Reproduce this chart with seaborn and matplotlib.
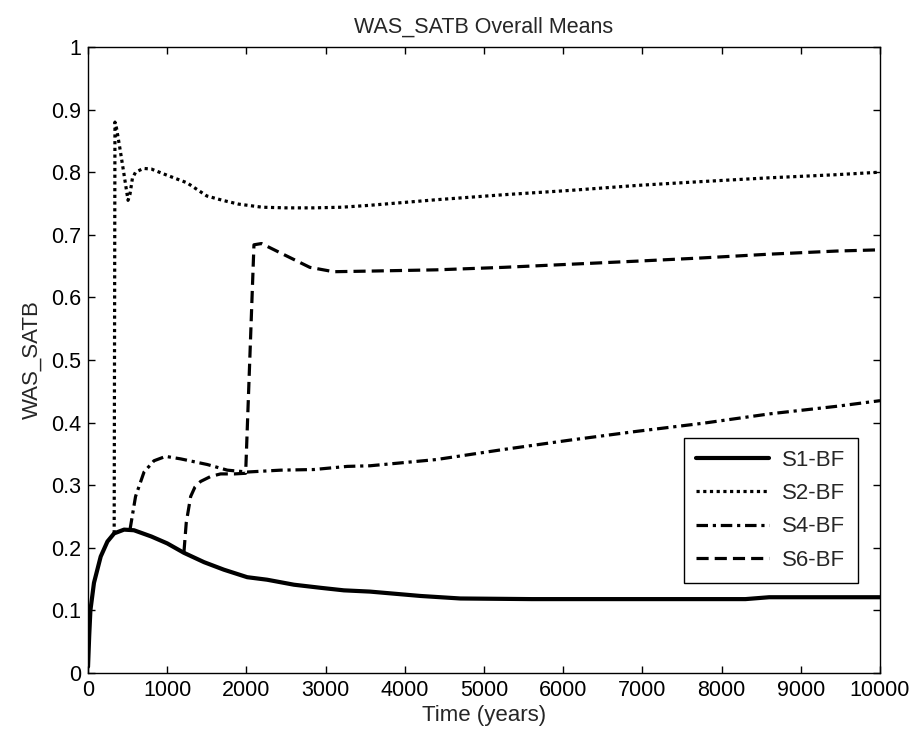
import numpy as np
import pandas as pd
import matplotlib
matplotlib.use('Agg')
import matplotlib.pyplot as plt
import seaborn as sns

# ==================== data ====================
s1_t = [0, 15, 30, 75, 160, 245, 330, 455, 580, 800, 1000, 1210, 1465, 1715, 2010,
        2260, 2600, 2940, 3230, 3560, 4200, 4700, 5600, 8300, 8600, 10000]
s1_y = [0.01, 0.06, 0.10, 0.144, 0.186, 0.21, 0.223, 0.229, 0.228, 0.218, 0.207, 0.192,
        0.177, 0.165, 0.153, 0.149, 0.141, 0.136, 0.132, 0.130, 0.123, 0.119, 0.118,
        0.118, 0.121, 0.121]

s2_t = [330, 340, 360, 400, 450, 505, 530, 560, 600, 700, 800, 1000, 1250, 1500, 1700,
        1900, 2200, 2500, 2850, 3200, 3550, 4400, 5250, 6100, 6950, 7750, 8600, 9450, 10000]
s2_y = [0.223, 0.88, 0.87, 0.84, 0.80, 0.755, 0.765, 0.79, 0.80, 0.806, 0.805, 0.795,
        0.783, 0.762, 0.755, 0.749, 0.744, 0.743, 0.743, 0.744, 0.747, 0.756, 0.764,
        0.771, 0.779, 0.785, 0.791, 0.796, 0.80]

s4_t = [530, 600, 707, 833, 980, 1170, 1506, 1759, 2010, 2432, 2852, 3273, 3561, 4402,
        5244, 6086, 6928, 7769, 8611, 9453, 10000]
s4_y = [0.229, 0.282, 0.321, 0.339, 0.346, 0.342, 0.333, 0.324, 0.321, 0.324, 0.325,
        0.330, 0.331, 0.341, 0.357, 0.372, 0.386, 0.399, 0.414, 0.426, 0.435]

s6_t = [1211, 1240, 1296, 1350, 1422, 1550, 1674, 1850, 1990, 2095, 2190, 2430, 2800,
        3100, 3560, 4400, 5250, 6100, 6950, 7750, 8600, 9450, 10000]
s6_y = [0.193, 0.24, 0.282, 0.297, 0.306, 0.314, 0.318, 0.318, 0.319, 0.684, 0.686,
        0.671, 0.648, 0.641, 0.642, 0.644, 0.648, 0.653, 0.658, 0.663, 0.669, 0.674, 0.676]

series_names = ['S1-BF', 'S2-BF', 'S4-BF', 'S6-BF']
series_t = [s1_t, s2_t, s4_t, s6_t]
series_y = [s1_y, s2_y, s4_y, s6_y]

x_ticks = [0, 1000, 2000, 3000, 4000, 5000, 6000, 7000, 8000, 9000, 10000]
y_ticks = [0, 0.1, 0.2, 0.3, 0.4, 0.5, 0.6, 0.7, 0.8, 0.9, 1]
y_tick_labels = ['0', '0.1', '0.2', '0.3', '0.4', '0.5', '0.6', '0.7', '0.8', '0.9', '1']

# ==================== style ====================
sns.set_style('ticks')
plt.rcParams['font.family'] = ['Liberation Sans', 'DejaVu Sans']
plt.rcParams['xtick.direction'] = 'in'
plt.rcParams['ytick.direction'] = 'in'

styles = [
    dict(linestyle='-', linewidth=3.0),
    dict(linestyle=(0, (1.0, 1.1)), linewidth=2.3),
    dict(linestyle=(0, (3.6, 1.5, 1.0, 1.5)), linewidth=2.3),
    dict(linestyle=(0, (3.8, 1.9)), linewidth=2.3),
]

fig = plt.figure(figsize=(9.17, 7.41), dpi=100)
ax = fig.add_axes([0.096, 0.0918, 0.8637, 0.8448])

for name, t, y, st in zip(series_names, series_t, series_y, styles):
    df = pd.DataFrame({'t': t, 'y': y})
    sns.lineplot(data=df, x='t', y='y', ax=ax, color='black', label=name,
                 estimator=None, sort=False, **st)

ax.set_xlim(0, 10000)
ax.set_ylim(0, 1)
ax.set_xticks(x_ticks)
ax.set_xticklabels([str(v) for v in x_ticks])
ax.set_yticks(y_ticks)
ax.set_yticklabels(y_tick_labels)
ax.tick_params(axis='both', which='both', top=True, right=True, length=5,
               width=1, labelsize=15.5, colors='black', pad=5)
for sp in ax.spines.values():
    sp.set_visible(True)
    sp.set_color('black')
    sp.set_linewidth(1)

ax.set_title('WAS_SATB Overall Means', fontsize=15.5, pad=10)
ax.set_xlabel('Time (years)', fontsize=16, labelpad=3)
ax.set_ylabel('WAS_SATB', fontsize=16, labelpad=6)

leg = ax.legend(loc='lower right', bbox_to_anchor=(0.972, 0.144), fontsize=16,
                handlelength=3.3, handletextpad=0.6, labelspacing=0.55, borderpad=0.55,
                fancybox=False, framealpha=1, borderaxespad=0)
leg.get_frame().set_edgecolor('black')
leg.get_frame().set_linewidth(1)

fig.savefig('out.png', dpi=100)
